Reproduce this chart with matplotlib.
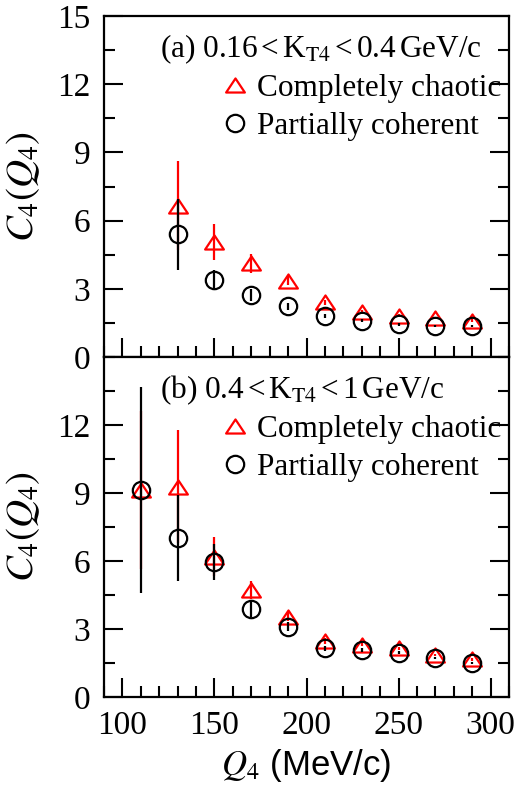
import matplotlib
matplotlib.use("Agg")
import matplotlib.pyplot as plt
from matplotlib.path import Path
from matplotlib.lines import Line2D
from matplotlib.ticker import MultipleLocator

plt.rcParams['mathtext.fontset'] = 'stix'
plt.rcParams['font.family'] = ['Liberation Serif', 'DejaVu Serif']

# ---------------- data ----------------
q_a = [130, 150, 170, 190, 210, 230, 250, 270, 290]
chaotic_a = [6.65, 5.06, 4.12, 3.35, 2.40, 1.97, 1.82, 1.72, 1.60]
chaotic_a_err = [1.95, 0.80, 0.42, 0.20, 0.12, 0.08, 0.06, 0.05, 0.05]
partial_a = [5.39, 3.38, 2.74, 2.23, 1.80, 1.60, 1.43, 1.35, 1.36]
partial_a_err = [1.58, 0.43, 0.27, 0.15, 0.10, 0.07, 0.05, 0.04, 0.04]

q_b = [110, 130, 150, 170, 190, 210, 230, 250, 270, 290]
chaotic_b = [9.13, 9.28, 6.19, 4.72, 3.54, 2.48, 2.31, 2.15, 1.85, 1.66]
chaotic_b_err = [3.50, 2.50, 0.85, 0.40, 0.20, 0.12, 0.08, 0.06, 0.05, 0.05]
partial_b = [9.13, 7.03, 5.97, 3.89, 3.10, 2.14, 2.08, 1.96, 1.71, 1.49]
partial_b_err = [4.55, 1.90, 0.80, 0.35, 0.20, 0.12, 0.08, 0.06, 0.05, 0.04]

labels_a = r'(a) 0.16$\,$<$\,$K$_{\mathrm{T4}}$$\,$<$\,$0.4$\,$GeV/c'
labels_b = r'(b) 0.4$\,$<$\,$K$_{\mathrm{T4}}$$\,$<$\,$1$\,$GeV/c'
series_names = ['Completely chaotic', 'Partially coherent']
yticks_top = [0, 3, 6, 9, 12, 15]
yticks_bot = [0, 3, 6, 9, 12]
xticks = [100, 150, 200, 250, 300]

# --------------- style ---------------
tri = Path([(0, 0.75), (-1, -0.75), (1, -0.75), (0, 0.75)],
           [Path.MOVETO, Path.LINETO, Path.LINETO, Path.CLOSEPOLY])
RED = '#ff0000'
W, H = 527, 791
fig = plt.figure(figsize=(W / 100, H / 100), dpi=100)

L = 104 / W
Wd = 405 / W
ax1 = fig.add_axes([L, 1 - 357 / H, Wd, 341 / H])
ax2 = fig.add_axes([L, 1 - 697 / H, Wd, 340 / H])


def draw(ax, q, yc, ec, yp, ep, label, yticks):
    ax.errorbar(q, yc, yerr=ec, fmt='none', ecolor=RED, elinewidth=1.6, capsize=0, zorder=2)
    ax.plot(q, yc, ls='none', marker=tri, ms=13.5, mfc='none', mec=RED, mew=1.6, zorder=3)
    ax.errorbar(q, yp, yerr=ep, fmt='none', ecolor='black', elinewidth=1.6, capsize=0, zorder=4)
    ax.plot(q, yp, ls='none', marker='o', ms=12.5, mfc='none', mec='black', mew=1.6, zorder=5)
    ax.set_xlim(90, 310)
    ax.set_ylim(0, 15)
    ax.set_xticks(xticks)
    ax.xaxis.set_minor_locator(MultipleLocator(10))
    ax.set_yticks(yticks)
    ax.yaxis.set_minor_locator(MultipleLocator(1.5))
    ax.tick_params(which='both', direction='in', right=True, top=False, width=1.5,
                   labelsize=24, pad=10)
    ax.tick_params(which='major', length=14)
    ax.tick_params(which='minor', length=8)
    for s in ax.spines.values():
        s.set_linewidth(1.6)
    ax.set_ylabel(r'$C_4(Q_4)$', fontsize=28, va='center')
    ax.yaxis.set_label_coords(-0.20, 0.5)
    ax.text(0.138, 0.88, label, transform=ax.transAxes, fontsize=22.5, va='baseline', ha='left')
    handles = [Line2D([], [], ls='none', marker=tri, ms=13.5, mfc='none', mec=RED, mew=1.6),
               Line2D([], [], ls='none', marker='o', ms=12.5, mfc='none', mec='black', mew=1.6)]
    ax.legend(handles, series_names, loc='upper left', bbox_to_anchor=(0.285, 0.83),
              frameon=False, fontsize=22.5, handlelength=1.0, handletextpad=0.2,
              borderpad=0, borderaxespad=0, labelspacing=0.3)


draw(ax1, q_a, chaotic_a, chaotic_a_err, partial_a, partial_a_err, labels_a, yticks_top)
draw(ax2, q_b, chaotic_b, chaotic_b_err, partial_b, partial_b_err, labels_b, yticks_bot)
ax1.tick_params(labelbottom=False)
ax2.set_xlabel(r'$Q_4$ (MeV/c)', fontsize=25, family=['Liberation Sans', 'DejaVu Sans'], labelpad=4)

fig.savefig('out.png', dpi=100)
